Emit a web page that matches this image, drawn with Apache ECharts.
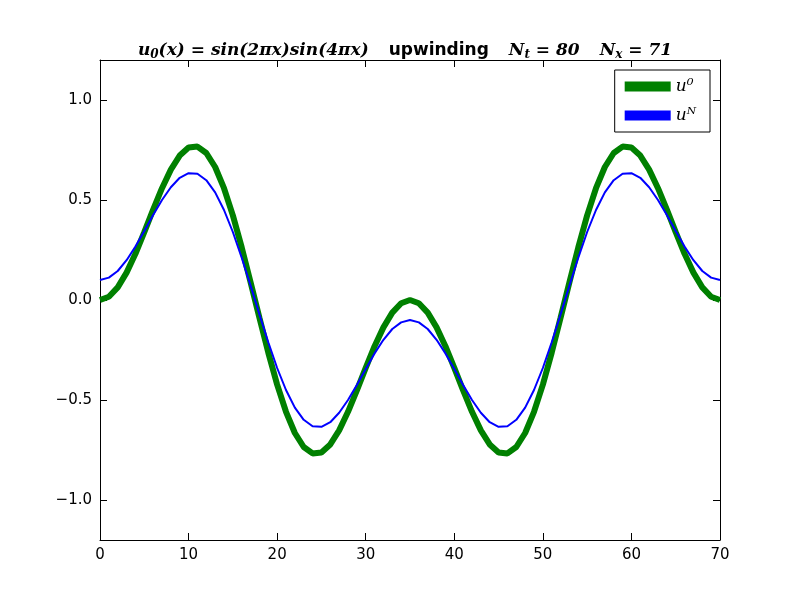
<!DOCTYPE html>
<html>
<head>
<meta charset="utf-8">
<script src="https://cdn.jsdelivr.net/npm/echarts@6/dist/echarts.min.js"></script>
<style>html,body{margin:0;padding:0;background:#fff}#chart{width:800px;height:600px}</style>
</head>
<body>
<div id="chart"></div>
<script>
// values, i = 0..70
var u0Half = [0, 0.016, 0.063, 0.137, 0.231, 0.339, 0.452, 0.559, 0.652, 0.722, 0.762, 0.767, 0.735, 0.665, 0.559, 0.423, 0.263, 0.089,
	-0.089, -0.263, -0.423, -0.559, -0.665, -0.735, -0.767, -0.762, -0.722, -0.652, -0.559, -0.452, -0.339, -0.231, -0.137, -0.063, -0.016, 0];
var uNHalf = [0.100, 0.112, 0.145, 0.199, 0.267, 0.345, 0.425, 0.500, 0.564, 0.611, 0.634, 0.631, 0.599, 0.538, 0.450, 0.340, 0.211, 0.072,
	-0.072, -0.211, -0.340, -0.450, -0.538, -0.599, -0.631, -0.634, -0.611, -0.564, -0.500, -0.425, -0.345, -0.267, -0.199, -0.145, -0.112, -0.100];
var xTicks = [0, 10, 20, 30, 40, 50, 60, 70];
var yTicks = [-1.0, -0.5, 0.0, 0.5, 1.0];

// second half mirrors the first (read as symmetric about x = 35)
var mirror = function(half){
	var full = half.slice();
	for( var i = half.length - 2; i >= 0; i-- ){
		full.push( half[i] );
	}
	return full;
};
var u0 = mirror( u0Half );
var uN = mirror( uNHalf );
var pairs = function(arr){
	return arr.map( function(v, i){ return [i, v]; } );
};

var font = 'DejaVu Sans';
var baseAxis = function(type, pos, ticks, show){
	return {
		type:'value', position:pos, min:type === 'x' ? 0 : -1.2, max:type === 'x' ? 70 : 1.2,
		axisLine:{show:true, onZero:false, lineStyle:{color:'#000', width:1}},
		axisTick:{show:true, inside:true, length:7, customValues:ticks, lineStyle:{color:'#000'}},
		axisLabel:{show:show, customValues:ticks, color:'#000', fontFamily:font, fontSize:15, margin:8,
			formatter:function(v){
				if( type === 'x' ) return String( v );
				return (v < 0 ? '\u2212' : '') + Math.abs( v ).toFixed( 1 );
			}},
		splitLine:{show:false}
	};
};

var chart = echarts.init( document.getElementById( 'chart' ) );
chart.setOption( {
	animation:false,
	title:{
		left:400, textAlign:'center', top:36,
		text:'{m|u}{s|0}{m|(x) = sin(2\u03c0x)sin(4\u03c0x)}    {n|upwinding}    {m|N}{s|t}{m| = 80}    {m|N}{s|x}{m| = 71}',
		textStyle:{rich:{
			m:{fontFamily:'DejaVu Serif', fontStyle:'italic', fontSize:17, color:'#000'},
			s:{fontFamily:'DejaVu Serif', fontStyle:'italic', fontSize:12, color:'#000', verticalAlign:'bottom', padding:[8, 0, 0, 0]},
			n:{fontFamily:font, fontSize:17, color:'#000'}
		}}
	},
	legend:{
		right:90, top:70, orient:'vertical', itemWidth:46, itemHeight:10, itemGap:12,
		padding:[8, 14, 8, 10], borderColor:'#000', borderWidth:1, backgroundColor:'#fff',
		textStyle:{fontFamily:'DejaVu Serif', fontStyle:'italic', fontSize:17, color:'#000'},
		data:[{name:'u\u2070', icon:'rect'}, {name:'u\u1d3a', icon:'rect'}]
	},
	grid:{left:100, right:80, top:60, bottom:60},
	xAxis:[baseAxis( 'x', 'bottom', xTicks, true ), baseAxis( 'x', 'top', xTicks, false )],
	yAxis:[baseAxis( 'y', 'left', yTicks, true ), baseAxis( 'y', 'right', yTicks, false )],
	series:[
		{name:'u\u2070', type:'line', data:pairs( u0 ), showSymbol:false, color:'#008000', lineStyle:{width:6, color:'#008000'}},
		{name:'u\u1d3a', type:'line', data:pairs( uN ), showSymbol:false, color:'#0000ff', lineStyle:{width:2, color:'#0000ff'}}
	]
} );
</script>
</body>
</html>
